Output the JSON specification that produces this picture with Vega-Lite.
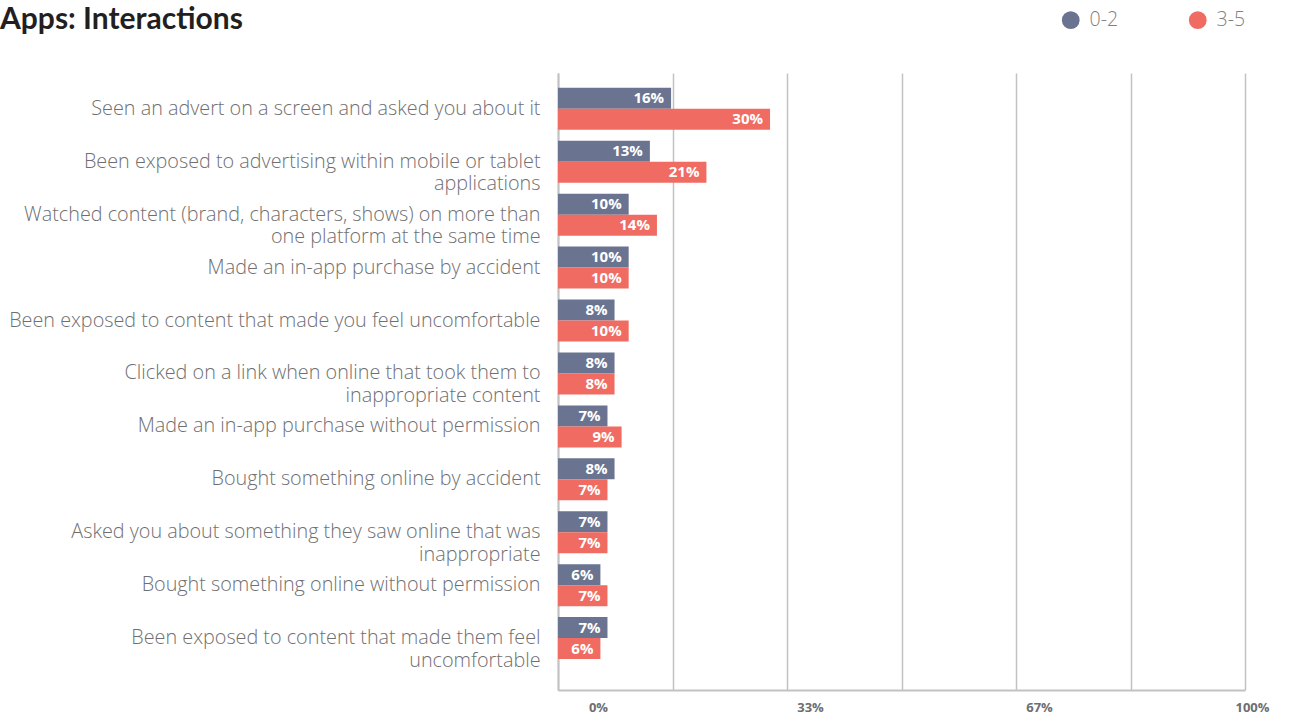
{
  "$schema": "https://vega.github.io/schema/vega-lite/v6.json",
  "width": 687,
  "height": 617,
  "autosize": {"type": "none"},
  "padding": {"left": 558, "top": 73, "right": 45, "bottom": 25},
  "background": "white",
  "title": {
    "text": "Apps: Interactions",
    "anchor": "start",
    "frame": "group",
    "dx": -558,
    "offset": -49,
    "baseline": "alphabetic",
    "font": "Lato",
    "fontSize": 30,
    "fontWeight": "bold",
    "color": "#231f20"
  },
  "data": {
    "values": [
      {"item": "Seen an advert on a screen and asked you about it", "age": "0-2", "pct": 0.16},
      {"item": "Seen an advert on a screen and asked you about it", "age": "3-5", "pct": 0.30},
      {"item": "Been exposed to advertising within mobile or tablet|applications", "age": "0-2", "pct": 0.13},
      {"item": "Been exposed to advertising within mobile or tablet|applications", "age": "3-5", "pct": 0.21},
      {"item": "Watched content (brand, characters, shows) on more than|one platform at the same time", "age": "0-2", "pct": 0.10},
      {"item": "Watched content (brand, characters, shows) on more than|one platform at the same time", "age": "3-5", "pct": 0.14},
      {"item": "Made an in-app purchase by accident", "age": "0-2", "pct": 0.10},
      {"item": "Made an in-app purchase by accident", "age": "3-5", "pct": 0.10},
      {"item": "Been exposed to content that made you feel uncomfortable", "age": "0-2", "pct": 0.08},
      {"item": "Been exposed to content that made you feel uncomfortable", "age": "3-5", "pct": 0.10},
      {"item": "Clicked on a link when online that took them to|inappropriate content", "age": "0-2", "pct": 0.08},
      {"item": "Clicked on a link when online that took them to|inappropriate content", "age": "3-5", "pct": 0.08},
      {"item": "Made an in-app purchase without permission", "age": "0-2", "pct": 0.07},
      {"item": "Made an in-app purchase without permission", "age": "3-5", "pct": 0.09},
      {"item": "Bought something online by accident", "age": "0-2", "pct": 0.08},
      {"item": "Bought something online by accident", "age": "3-5", "pct": 0.07},
      {"item": "Asked you about something they saw online that was|inappropriate", "age": "0-2", "pct": 0.07},
      {"item": "Asked you about something they saw online that was|inappropriate", "age": "3-5", "pct": 0.07},
      {"item": "Bought something online without permission", "age": "0-2", "pct": 0.06},
      {"item": "Bought something online without permission", "age": "3-5", "pct": 0.07},
      {"item": "Been exposed to content that made them feel|uncomfortable", "age": "0-2", "pct": 0.07},
      {"item": "Been exposed to content that made them feel|uncomfortable", "age": "3-5", "pct": 0.06}
    ]
  },
  "encoding": {
    "y": {
      "field": "item",
      "type": "nominal",
      "sort": null,
      "scale": {"paddingInner": 0.2065, "paddingOuter": 0.432, "align": 0.324},
      "axis": {
        "title": null,
        "labelExpr": "split(datum.label, '|')",
        "labelFont": "Open Sans",
        "labelFontWeight": 300,
        "labelFontSize": 19.8,
        "labelColor": "#6f6f72",
        "labelLineHeight": 22.5,
        "labelLimit": 0,
        "labelPadding": 18,
        "ticks": false,
        "tickSize": 0,
        "domain": true,
        "domainColor": "#c2c2c2",
        "domainWidth": 2,
        "grid": false
      }
    },
    "yOffset": {
      "field": "age",
      "type": "nominal",
      "sort": ["0-2", "3-5"],
      "scale": {"paddingInner": 0, "paddingOuter": 0}
    },
    "x": {
      "field": "pct",
      "type": "quantitative",
      "scale": {"domain": [0, 0.972], "nice": false, "zero": true},
      "axis": {
        "title": null,
        "values": [0, 0.162, 0.324, 0.486, 0.648, 0.81, 0.972],
        "labelExpr": "datum.value < 0.01 ? '0%' : abs(datum.value - 0.324) < 0.01 ? '33%' : abs(datum.value - 0.648) < 0.01 ? '67%' : datum.value > 0.95 ? '100%' : ''",
        "labelOffset": {"condition": [{"test": "datum.value < 0.01", "value": 40}, {"test": "datum.value > 0.95", "value": 7}], "value": 23},
        "labelOverlap": false,
        "labelFlush": false,
        "labelBound": false,
        "labelFont": "Open Sans",
        "labelFontSize": 13,
        "labelFontWeight": "bold",
        "labelColor": "#6d6e71",
        "labelPadding": 11,
        "ticks": false,
        "tickSize": 0,
        "grid": true,
        "gridColor": "#c2c2c2",
        "gridWidth": 1.5,
        "domain": true,
        "domainColor": "#c2c2c2",
        "domainWidth": 2
      }
    }
  },
  "layer": [
    {
      "mark": {"type": "bar"},
      "encoding": {
        "color": {
          "field": "age",
          "type": "nominal",
          "sort": ["0-2", "3-5"],
          "scale": {"domain": ["0-2", "3-5"], "range": ["#6a7491", "#f06c62"]},
          "legend": {
            "title": null,
            "orient": "none",
            "legendX": 503,
            "legendY": -63,
            "direction": "horizontal",
            "symbolType": "circle",
            "symbolSize": 314,
            "symbolStrokeWidth": 0,
            "labelFont": "Open Sans",
            "labelFontWeight": 300,
            "labelFontSize": 19.5,
            "labelColor": "#808083",
            "labelOffset": 9,
            "columnPadding": 69,
            "padding": 0
          }
        }
      }
    },
    {
      "mark": {"type": "text", "align": "right", "baseline": "middle", "dx": -7, "font": "Open Sans", "fontSize": 15, "fontWeight": "bold", "color": "white"},
      "encoding": {
        "text": {"field": "pct", "type": "quantitative", "format": ".0%"}
      }
    }
  ],
  "config": {"view": {"stroke": null}}
}
